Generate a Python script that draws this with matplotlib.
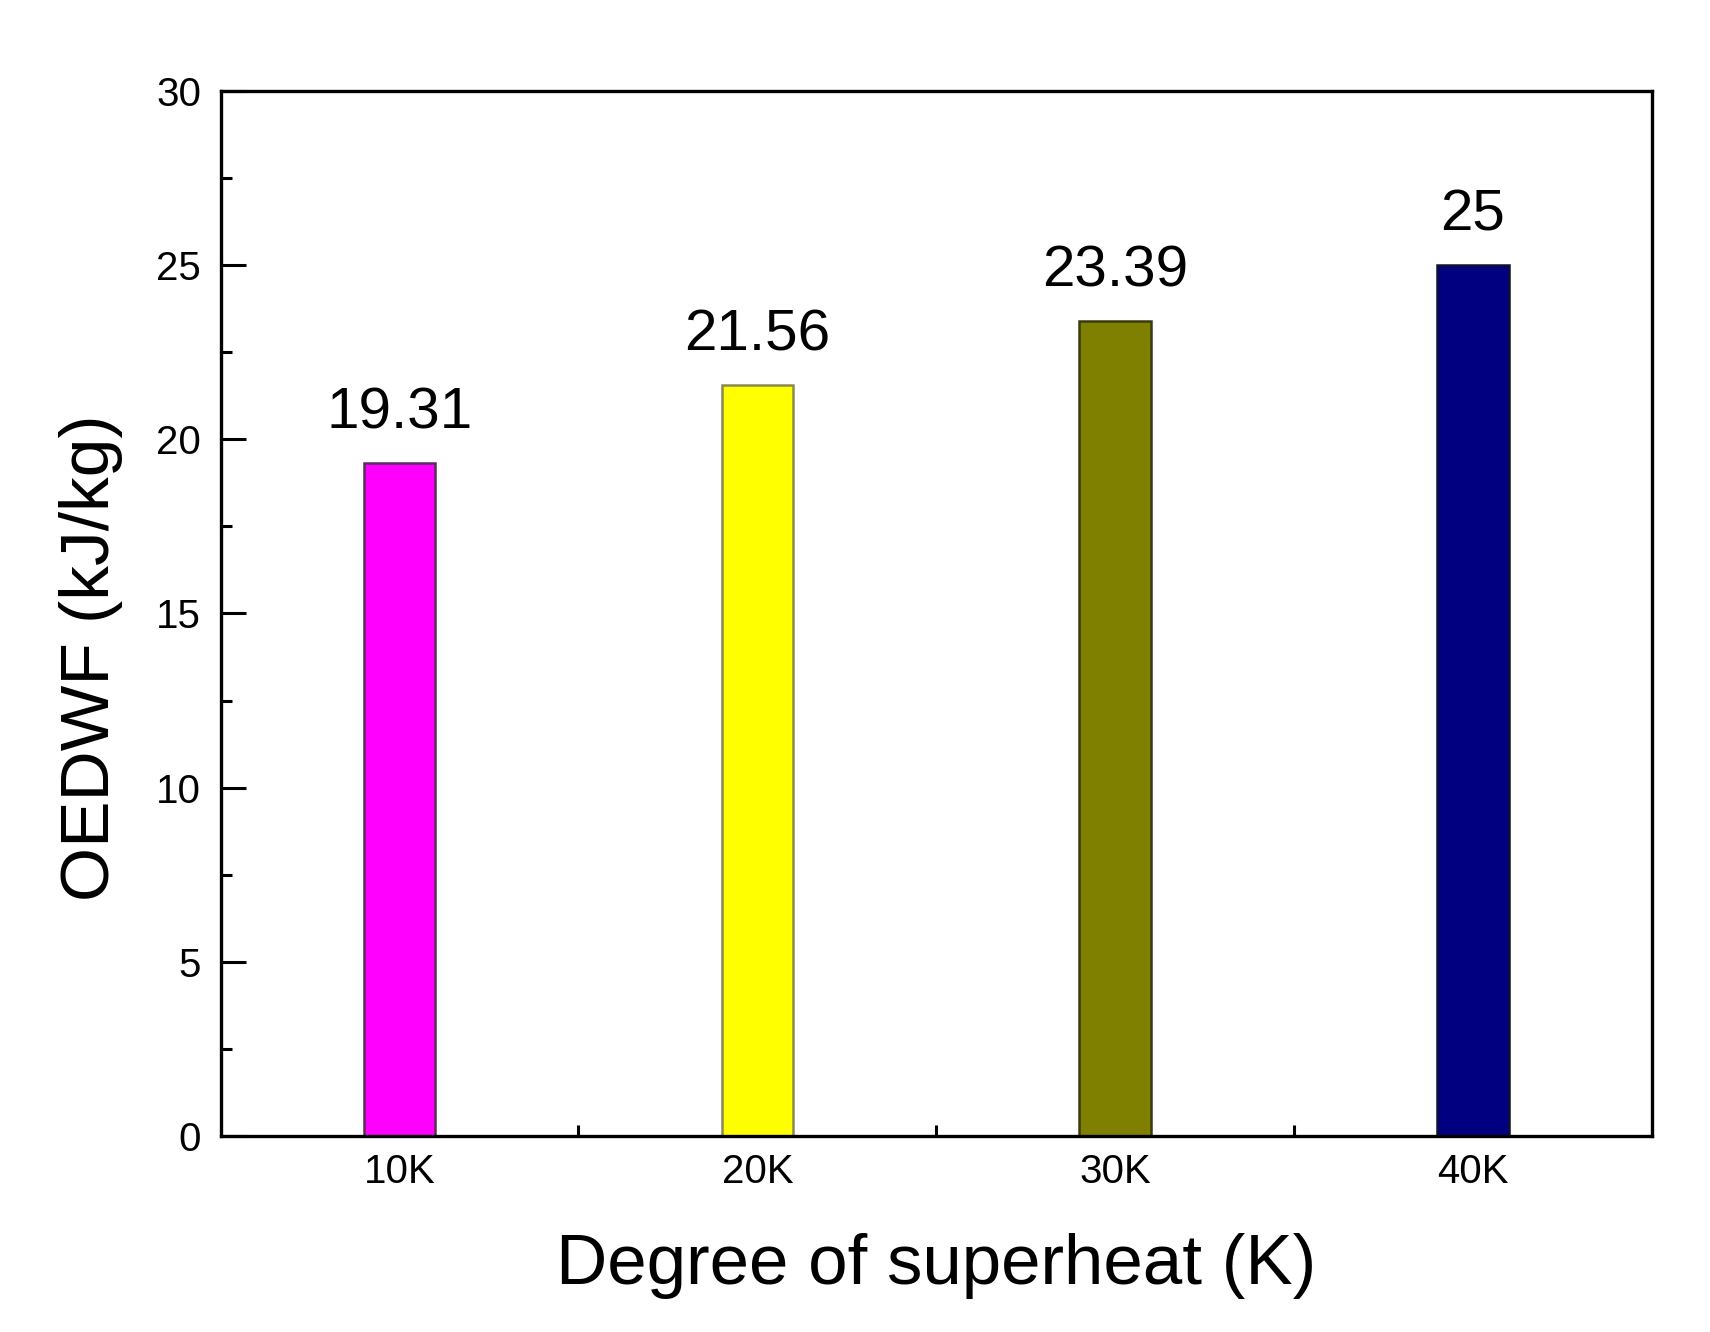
import matplotlib
matplotlib.use("Agg")
import matplotlib.pyplot as plt
from matplotlib.ticker import MultipleLocator, FixedLocator

plt.rcParams['font.family'] = ['Liberation Sans', 'DejaVu Sans']

labels = ['10K', '20K', '30K', '40K']
values = [19.31, 21.56, 23.39, 25]
value_text = ['19.31', '21.56', '23.39', '25']
colors = ['#ff00ff', '#ffff00', '#808000', '#000080']
edges = ['#5c2a5c', '#8a8a50', '#3a3a10', '#101030']

fig = plt.figure(figsize=(17.1, 13.32), dpi=100)
ax = fig.add_axes([0.129, 0.147, 0.837, 0.785])

xs = list(range(1, len(labels) + 1))
ax.bar(xs, values, width=0.2, color=colors, edgecolor=edges, linewidth=1.8, zorder=2)

for x, v, t in zip(xs, values, value_text):
    ax.annotate(t, (x, v), xytext=(0, 16), textcoords='offset points',
                ha='center', va='bottom', fontsize=42)

ax.set_xlim(0.5, 4.5)
ax.set_ylim(0, 30)
ax.set_xticks(xs)
ax.set_xticklabels(labels)
ax.xaxis.set_minor_locator(FixedLocator([1.5, 2.5, 3.5]))
ax.yaxis.set_major_locator(MultipleLocator(5))
ax.yaxis.set_minor_locator(MultipleLocator(2.5))

ax.tick_params(axis='both', which='major', direction='in', length=14, width=2.2,
               labelsize=29, pad=12)
ax.tick_params(axis='y', which='major', pad=14)
ax.tick_params(axis='both', which='minor', direction='in', length=8, width=2.2)
ax.tick_params(axis='y', which='major', length=18)
ax.tick_params(top=False, right=False, which='both')

for s in ax.spines.values():
    s.set_linewidth(2.4)

ax.set_xlabel('Degree of superheat (K)', fontsize=51, labelpad=30)
ax.set_ylabel('OEDWF (kJ/kg)', fontsize=50)
ax.yaxis.set_label_coords(-0.068, 0.458)

fig.savefig('out.png', dpi=100)
